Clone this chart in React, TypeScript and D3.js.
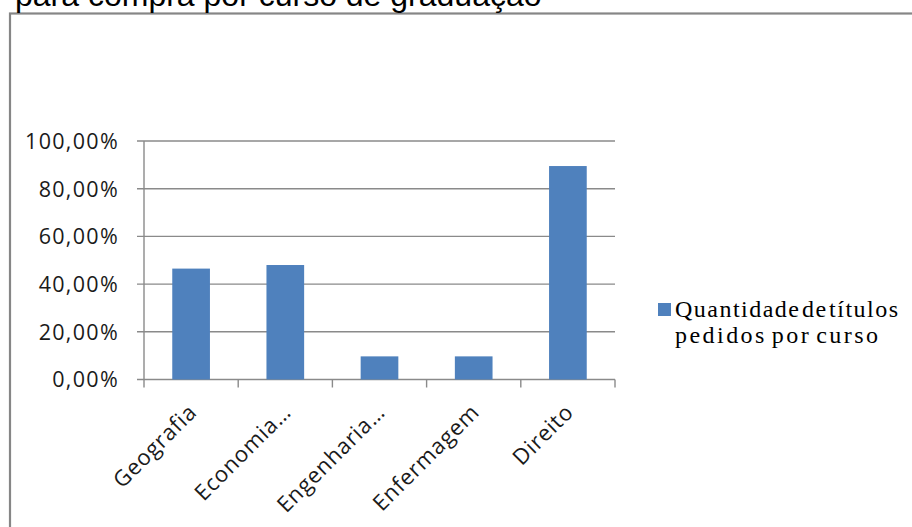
import React from "react";
import * as d3 from "d3";

// Course categories and share of requested titles
const categories = ["Geografia", "Economia…", "Engenharia…", "Enfermagem", "Direito"];
const values = [0.465, 0.48, 0.097, 0.097, 0.895];
const yTicks = [0, 0.2, 0.4, 0.6, 0.8, 1.0];
const titleText = "para compra por curso de graduação";
const legendLines = ["Quantidade de títulos", "pedidos por curso"];
const legendWidths = [223, 203];

const W = 912;
const H = 527;
const plot = { left: 144, right: 615, top: 141, bottom: 379.5 };
const barColor = "#4F81BD";
const lineColor = "#8a8a8a";
const labelFont = "'Open Sans', 'DejaVu Sans', sans-serif";

const fmtPct = (v: number) => (v * 100).toFixed(2).replace(".", ",") + "%";

export default function App() {
  const x = d3
    .scaleBand<string>()
    .domain(categories)
    .range([plot.left, plot.right])
    .paddingInner(0.6)
    .paddingOuter(0.3);
  const y = d3.scaleLinear().domain([0, 1]).range([plot.bottom, plot.top]);
  const step = x.step();
  const boundaries = d3.range(categories.length + 1).map((i) => plot.left + i * step);

  return (
    <svg
      width={W}
      height={H}
      style={{ position: "absolute", left: 0, top: 0, background: "#fff" }}
    >
      {/* chart frame */}
      <rect x={10} y={13.5} width={W + 20} height={H + 20} fill="#fff" stroke="#868686" strokeWidth={2.2} />

      {/* title, partially above the page */}
      <text x={15} y={5.5} fontFamily="'Liberation Sans', Arial, sans-serif" fontSize={32} fill="#000">
        {titleText}
      </text>

      {/* horizontal gridlines with tick stubs */}
      {yTicks.map((t) => (
        <line
          key={"g" + t}
          x1={plot.left - 7}
          x2={plot.right}
          y1={y(t)}
          y2={y(t)}
          stroke={lineColor}
          strokeWidth={1.4}
        />
      ))}

      {/* y axis line */}
      <line x1={plot.left} x2={plot.left} y1={plot.top} y2={plot.bottom} stroke={lineColor} strokeWidth={1.4} />

      {/* x axis ticks between categories */}
      {boundaries.map((bx, i) => (
        <line key={"xt" + i} x1={bx} x2={bx} y1={plot.bottom} y2={plot.bottom + 8} stroke={lineColor} strokeWidth={1.4} />
      ))}

      {/* y tick labels */}
      {yTicks.map((t) => (
        <text
          key={"yl" + t}
          x={119}
          y={y(t) + 7.8}
          textAnchor="end"
          fontFamily={labelFont}
          fontSize={21.5}
          letterSpacing={1.3}
          fill="#1a1a1a"
        >
          {fmtPct(t)}
        </text>
      ))}

      {/* bars */}
      {categories.map((c, i) => (
        <rect
          key={"b" + c}
          x={x(c)}
          y={y(values[i])}
          width={x.bandwidth()}
          height={plot.bottom - y(values[i])}
          fill={barColor}
        />
      ))}

      {/* rotated category labels */}
      {categories.map((c) => {
        const cx = (x(c) as number) + x.bandwidth() / 2;
        return (
          <text
            key={"xl" + c}
            transform={`translate(${cx + 7},${plot.bottom + 34}) rotate(-45)`}
            textAnchor="end"
            fontFamily={labelFont}
            fontSize={22}
            letterSpacing={0.8}
            fill="#1a1a1a"
          >
            {c}
          </text>
        );
      })}

      {/* legend */}
      <rect x={658} y={303} width={13} height={13} fill={barColor} />
      {legendLines.map((l, i) => (
        <text
          key={"lg" + i}
          x={675}
          y={317 + i * 25.5}
          fontFamily="'Liberation Serif', 'Times New Roman', serif"
          fontSize={24}
          wordSpacing={i === 0 ? -6 : -3.5}
          textLength={legendWidths[i]}
          lengthAdjust="spacing"
          fill="#000"
        >
          {l}
        </text>
      ))}
    </svg>
  );
}
